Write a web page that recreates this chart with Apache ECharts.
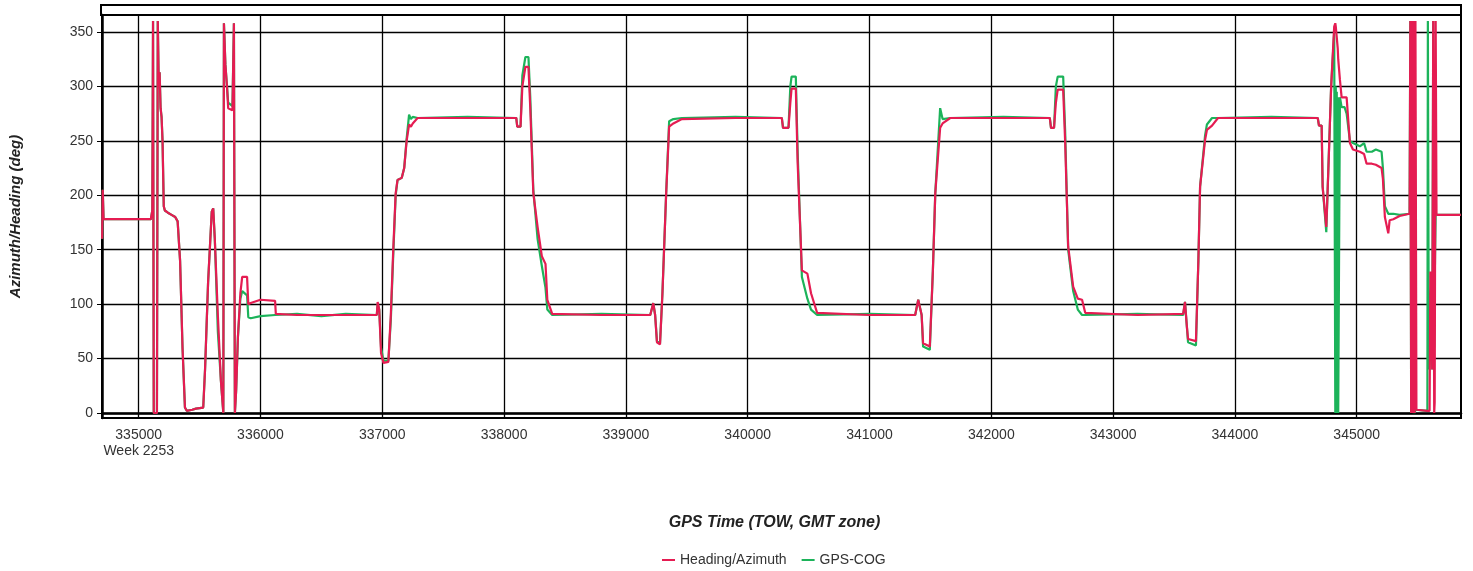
<!DOCTYPE html>
<html>
<head>
<meta charset="utf-8">
<script src="https://cdn.jsdelivr.net/npm/echarts@6/dist/echarts.min.js"></script>
<style>
html, body { margin: 0; padding: 0; background: #fff; }
#main { width: 1473px; height: 571px; }
</style>
</head>
<body>
<div id="main"></div>
<script>
// GPS time of week (s)
var times = [
  334700, 334705, 334712, 335100, 335112, 335118, 335124, 335150, 335157, 335165,
  335172, 335180, 335188, 335196, 335206, 335215, 335240, 335270, 335300, 335320,
  335340, 335360, 335380, 335395, 335440, 335470, 335530, 335545, 335570, 335600,
  335612, 335625, 335650, 335675, 335695, 335700, 335712, 335725, 335735, 335770,
  335782, 335790, 335800, 335815, 335835, 335850, 335890, 335900, 335920, 336000,
  336120, 336126, 336300, 336500, 336700, 336955, 336962, 336975, 336990, 337010,
  337050, 337070, 337090, 337110, 337125, 337160, 337180, 337200, 337220, 337235,
  337250, 337290, 337700, 338100, 338108, 338135, 338150, 338175, 338200, 338215,
  338240, 338275, 338310, 338340, 338355, 338395, 338800, 339200, 339225, 339240,
  339255, 339280, 339300, 339330, 339355, 339390, 339460, 339900, 340280, 340290,
  340335, 340350, 340360, 340395, 340410, 340445, 340490, 340520, 340570, 341000,
  341375, 341400, 341428, 341440, 341495, 341520, 341540, 341580, 341600, 341663,
  342100, 342480, 342490, 342515, 342530, 342545, 342590, 342606, 342631, 342672,
  342710, 342745, 342771, 343200, 343575, 343590, 343605, 343615, 343680, 343700,
  343714, 343755, 343770, 343812, 343861, 344300, 344680, 344690, 344712, 344720,
  344750, 344760, 344790, 344815, 344824, 344828, 344832, 344836, 344840, 344844,
  344848, 344862, 344876, 344900, 344917, 344944, 344969, 345026, 345060, 345081,
  345124, 345157, 345204, 345215, 345231, 345259, 345270, 345300, 345352, 345434,
  345440, 345447, 345454, 345461, 345468, 345475, 345482, 345490, 345580, 345584,
  345592, 345598, 345605, 345612, 345620, 345628, 345636, 345640, 345648, 345655,
  345855
];
// Heading/Azimuth (deg)
var heading = [
  160, 205, 178, 178, 186, 360, 0, 0, 360, 300,
  313, 280, 272, 250, 190, 186, 184, 182, 180, 176,
  140, 60, 5, 2, 3, 4, 5, 40, 120, 185,
  188, 160, 90, 30, 0, 358, 320, 300, 280, 278,
  358, 0, 20, 70, 110, 125, 125, 100, 101, 104,
  103, 91, 90, 90, 90, 90, 102, 95, 55, 46,
  47, 90, 150, 202, 214, 216, 225, 250, 265, 263,
  266, 271, 271, 271, 263, 263, 300, 318, 318, 280,
  202, 171, 144, 137, 104, 91, 90, 90, 101, 90,
  65, 63, 110, 200, 263, 266, 270, 271, 271, 262,
  262, 285, 298, 298, 230, 131, 128, 110, 92, 90,
  90, 104, 90, 64, 61, 130, 202, 262, 266, 271,
  271, 271, 262, 262, 285, 297, 297, 250, 153, 116,
  105, 104, 92, 90, 91, 102, 80, 68, 66, 140,
  208, 251, 260, 264, 271, 271, 271, 264, 264, 208,
  171, 201, 300, 355, 358, 355, 350, 345, 340, 335,
  325, 306, 290, 290, 290, 248, 242, 240, 238, 229,
  229, 228, 225, 215, 180, 165, 177, 178, 181, 183,
  360, 0, 360, 0, 360, 0, 360, 3, 2, 2,
  2, 2, 130, 125, 40, 360, 0, 10, 360, 182,
  182
];
// GPS-COG (deg)
var cog = [
  160, 205, 178, 178, 186, 360, 0, 0, 360, 300,
  313, 280, 272, 250, 190, 186, 184, 182, 180, 176,
  140, 60, 5, 2, 3, 4, 5, 40, 120, 185,
  188, 160, 75, 30, 0, 358, 320, 300, 285, 282,
  358, 0, 20, 70, 105, 112, 108, 88, 87, 89,
  90, 91, 91, 89, 91, 90, 100, 95, 60, 48,
  48, 85, 145, 200, 214, 216, 225, 252, 274, 270,
  272, 271, 272, 271, 263, 263, 310, 327, 327, 290,
  205, 160, 135, 115, 95, 90, 91, 90, 101, 90,
  66, 64, 110, 200, 268, 270, 271, 272, 271, 262,
  262, 300, 309, 309, 240, 125, 105, 95, 90, 91,
  90, 104, 90, 61, 58, 130, 202, 280, 270, 271,
  272, 271, 262, 262, 300, 309, 309, 260, 150, 112,
  95, 90, 90, 91, 90, 102, 80, 65, 62, 140,
  208, 255, 265, 271, 271, 272, 271, 264, 264, 208,
  166, 201, 300, 350, 0, 300, 0, 295, 0, 290,
  0, 290, 281, 281, 275, 250, 248, 245, 248, 240,
  240, 242, 240, 225, 190, 183, 182, 183, 182, 183,
  360, 0, 10, 0, 5, 0, 3, 2, 2, 360,
  40, 50, 100, 120, 40, 360, 60, 120, 182, 182,
  182
];
var xTicks = [335000, 336000, 337000, 338000, 339000, 340000, 341000, 342000, 343000, 344000, 345000];
var yTicks = [0, 50, 100, 150, 200, 250, 300, 350];

var headingData = times.map(function (t, i) { return [t, heading[i]]; });
var cogData = times.map(function (t, i) { return [t, cog[i]]; });

var chart = echarts.init(document.getElementById('main'));
var font = 'Liberation Sans, Arial, sans-serif';

var option = {
  animation: false,
  backgroundColor: '#fff',
  grid: {
    left: 101, right: 12, top: 15, bottom: 153,
    show: true, borderColor: '#000', borderWidth: 2
  },
  graphic: [{
    type: 'rect',
    shape: { x: 101, y: 5, width: 1360, height: 10 },
    style: { fill: 'none', stroke: '#000', lineWidth: 2 },
    silent: true
  }],
  legend: {
    left: 657, top: 548,
    icon: 'rect', itemWidth: 13, itemHeight: 2, itemGap: 15,
    textStyle: { fontFamily: font, fontSize: 14, color: '#333' },
    data: ['Heading/Azimuth', 'GPS-COG']
  },
  xAxis: {
    type: 'value',
    min: 334699, max: 345856,
    name: 'GPS Time (TOW, GMT zone)',
    nameLocation: 'middle', nameGap: 97,
    nameTextStyle: {
      fontFamily: font, fontSize: 16, fontWeight: 'bold', fontStyle: 'italic', color: '#222',
      padding: [0, 14, 0, 0]
    },
    axisLine: { show: true, lineStyle: { color: '#000', width: 2.5 } },
    axisTick: { show: true, customValues: xTicks, length: 5, lineStyle: { color: '#000', width: 1 } },
    axisLabel: {
      customValues: xTicks, margin: 9,
      fontFamily: font, fontSize: 14, color: '#333', lineHeight: 16,
      formatter: function (v) { return v === 335000 ? v + '\nWeek 2253' : String(v); }
    },
    splitLine: { show: true, lineStyle: { color: '#000', width: 1.3 } }
  },
  yAxis: {
    type: 'value',
    min: -4.6, max: 365.6,
    name: 'Azimuth/Heading (deg)',
    nameLocation: 'middle', nameGap: 79,
    nameTextStyle: { fontFamily: font, fontSize: 15, fontWeight: 'bold', fontStyle: 'italic', color: '#222' },
    axisLine: { show: true, lineStyle: { color: '#000', width: 2.5 } },
    axisTick: { show: true, customValues: yTicks, length: 5, lineStyle: { color: '#000', width: 1 } },
    axisLabel: { customValues: yTicks, margin: 9, fontFamily: font, fontSize: 14, color: '#333' },
    splitLine: { show: true, lineStyle: { color: '#000', width: 1.3 } }
  },
  series: [
    {
      name: 'Heading/Azimuth', type: 'line', data: headingData,
      showSymbol: false, z: 4,
      itemStyle: { color: '#e51c52' },
      lineStyle: { color: '#e51c52', width: 2.2 }
    },
    {
      name: 'GPS-COG', type: 'line', data: cogData,
      showSymbol: false, z: 3,
      itemStyle: { color: '#1cb35a' },
      lineStyle: { color: '#1cb35a', width: 2.2 }
    }
  ]
};
chart.setOption(option);
</script>
</body>
</html>
